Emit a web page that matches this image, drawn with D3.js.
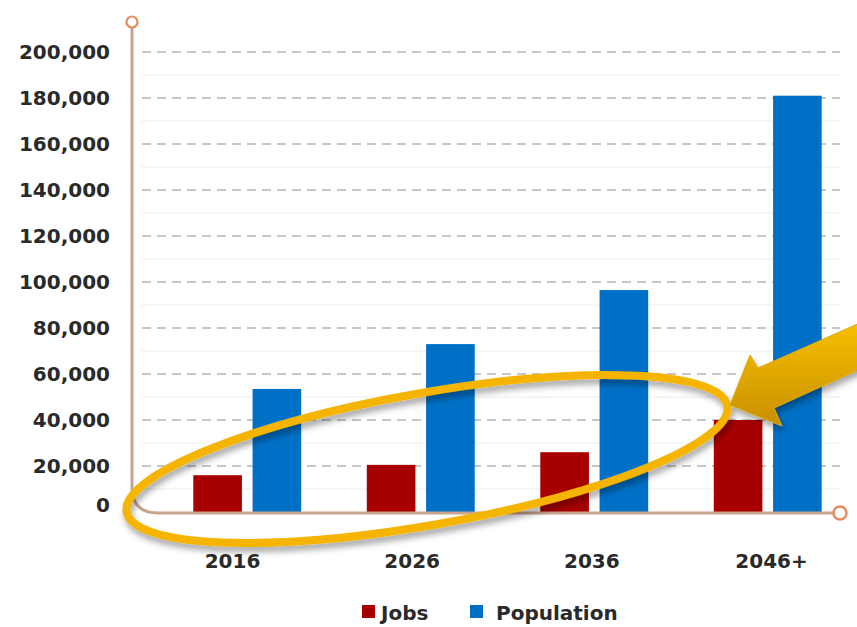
<!DOCTYPE html>
<html>
<head>
<meta charset="utf-8">
<script src="https://cdn.jsdelivr.net/npm/d3@7"></script>
<style>
  body { margin: 0; background: #fff; }
  svg { display: block; font-family: "DejaVu Sans", sans-serif; }
</style>
</head>
<body>
<script>
const years = ["2016", "2026", "2036", "2046+"];
const series = ["Jobs", "Population"];
const jobs = [16000, 20500, 26000, 40000];
const population = [53500, 73000, 96500, 181000];
const yTicks = [0, 20000, 40000, 60000, 80000, 100000, 120000, 140000, 160000, 180000, 200000];
const colors = ["#a80000", "#0070c6"];

const W = 857, H = 627;
const svg = d3.select("body").append("svg").attr("width", W).attr("height", H);

const defs = svg.append("defs");
const blur = defs.append("filter").attr("id", "shadow").attr("x", "-20%").attr("y", "-20%").attr("width", "140%").attr("height", "150%");
blur.append("feDropShadow").attr("dx", 2).attr("dy", 5).attr("stdDeviation", 3).attr("flood-color", "#000").attr("flood-opacity", 0.35);
const grad = defs.append("linearGradient").attr("id", "gold").attr("x1", 0).attr("y1", 0).attr("x2", 0).attr("y2", 1);
grad.append("stop").attr("offset", "0%").attr("stop-color", "#f7c000");
grad.append("stop").attr("offset", "100%").attr("stop-color", "#c88f00");

// scales
const y = d3.scaleLinear().domain([0, 200000]).range([512, 52]);
const x0 = d3.scaleBand().domain(years).range([160.5, 854.5]).paddingInner(0.378).paddingOuter(0.189);
const x1 = d3.scaleBand().domain(series).range([0, x0.bandwidth()]).paddingInner(0.18);
// category labels sit a little apart from the bar groups in the original
const xLabel = d3.scalePoint().domain(years).range([232, 771]);

// minor grid (10k halfway)
svg.append("g").selectAll("line")
  .data(yTicks.slice(0, -1))
  .join("line")
  .attr("x1", 142).attr("x2", 840)
  .attr("y1", d => y(d + 10000)).attr("y2", d => y(d + 10000))
  .attr("stroke", "#ececec").attr("stroke-width", 1);

// major dashed grid
svg.append("g").selectAll("line")
  .data(yTicks.filter(d => d > 0))
  .join("line")
  .attr("x1", 142).attr("x2", 840)
  .attr("y1", d => y(d)).attr("y2", d => y(d))
  .attr("stroke", "#b5b5b5").attr("stroke-width", 1.3)
  .attr("stroke-dasharray", "9,6");

// y axis labels
const yAxis = svg.append("g").attr("transform", "translate(110,0)")
  .call(d3.axisLeft(y).tickValues(yTicks).tickSize(0).tickPadding(0).tickFormat(d3.format(",")));
yAxis.select(".domain").remove();
yAxis.selectAll("text")
  .attr("font-family", "DejaVu Sans").attr("font-weight", "bold").attr("font-size", 20)
  .attr("fill", "#2a2a2a")
  .attr("dy", (d) => d === 0 ? "-0.05em" : "0.32em");

// bars
const data = years.map((yr, i) => ({ year: yr, values: [jobs[i], population[i]] }));
svg.append("g").selectAll("g")
  .data(data)
  .join("g")
  .attr("transform", d => `translate(${x0(d.year)},0)`)
  .selectAll("rect")
  .data(d => d.values.map((v, j) => ({ key: series[j], v, j })))
  .join("rect")
  .attr("x", d => x1(d.key))
  .attr("width", x1.bandwidth())
  .attr("y", d => y(d.v))
  .attr("height", d => y(0) - y(d.v))
  .attr("fill", d => colors[d.j]);

// axis frame with rounded corner
const ax = 132, ayTop = 22, ay0 = y(0) + 1, r = 26, axRight = 840;
svg.append("path")
  .attr("d", `M${ax},${ayTop + 6} L${ax},${ay0 - r} Q${ax},${ay0} ${ax + r},${ay0} L${axRight - 7},${ay0}`)
  .attr("fill", "none").attr("stroke", "#c9a38e").attr("stroke-width", 3);
svg.append("circle").attr("cx", ax).attr("cy", ayTop).attr("r", 5.5)
  .attr("fill", "#fff").attr("stroke", "#e58c5c").attr("stroke-width", 2.2);
svg.append("circle").attr("cx", axRight).attr("cy", ay0).attr("r", 6.5)
  .attr("fill", "#fff").attr("stroke", "#e58c5c").attr("stroke-width", 2.5);

// x labels
const xAxis = svg.append("g").attr("transform", "translate(0,562)")
  .call(d3.axisBottom(xLabel).tickSize(0).tickPadding(0));
xAxis.select(".domain").remove();
xAxis.selectAll("text")
  .attr("font-family", "DejaVu Sans").attr("font-weight", "bold").attr("font-size", 20)
  .attr("fill", "#2a2a2a").attr("dy", "0.32em");

// legend
const legend = svg.append("g").attr("transform", "translate(362,605)");
const legX = [0, 108];
series.forEach((s, i) => {
  const g = legend.append("g").attr("transform", `translate(${legX[i]},0)`);
  g.append("rect").attr("width", 13).attr("height", 13).attr("fill", colors[i]);
  g.append("text").attr("x", i === 0 ? 19 : 26).attr("y", 14.5)
    .attr("font-family", "DejaVu Sans").attr("font-weight", "bold").attr("font-size", 20)
    .attr("fill", "#2a2a2a").text(s);
});

// annotation: ellipse round the jobs bars
const ann = svg.append("g").attr("filter", "url(#shadow)");
ann.append("ellipse")
  .attr("cx", 427).attr("cy", 459).attr("rx", 305).attr("ry", 66)
  .attr("transform", "rotate(-10,427,459)")
  .attr("fill", "none").attr("stroke", "#f5b400").attr("stroke-width", 8);

// annotation: arrow
ann.append("path")
  .attr("d", "M730,405 L750,355 L758,368 L862,322 L862,368 L774,408 L782,426 Z")
  .attr("fill", "url(#gold)").attr("stroke", "#e0a800").attr("stroke-width", 1);
</script>
</body>
</html>
